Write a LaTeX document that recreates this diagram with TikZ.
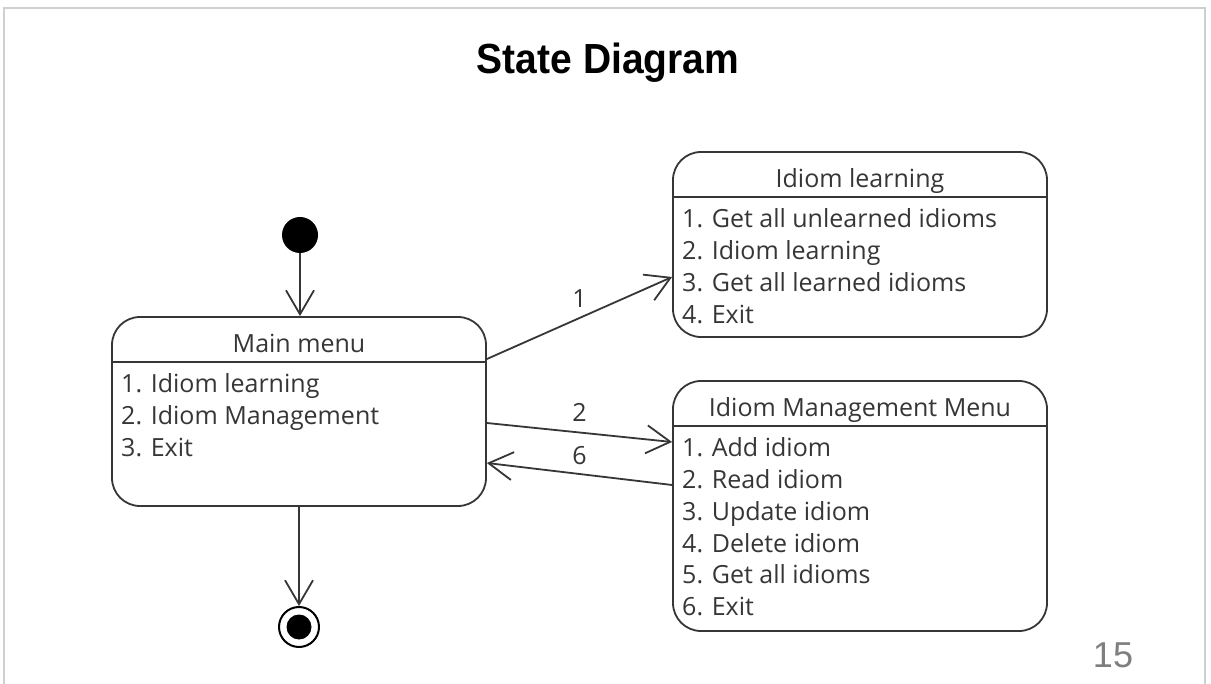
\documentclass[tikz,border=0pt]{standalone}
\usepackage{fontspec}
\setmainfont{Open Sans}
\newfontfamily\arialfont{Liberation Sans}
\usetikzlibrary{arrows.meta,calc}
\definecolor{ink}{HTML}{363636}
\definecolor{txt}{HTML}{363636}
\definecolor{framegray}{HTML}{CFCFCF}
\definecolor{pagenum}{HTML}{7F7F7F}
\begin{document}
\begin{tikzpicture}[x=1pt,y=1pt,
  statebox/.style={draw=ink, line width=1.8pt, rounded corners=28pt, rectangle,
    minimum width=374pt, inner sep=0pt},
  divider/.style={draw=ink, line width=1.8pt},
  head/.style={anchor=base, inner sep=0pt, text=txt, font=\fontsize{25}{30}\selectfont},
  txtline/.style={anchor=base west, inner sep=0pt, text=txt, font=\fontsize{25}{30}\selectfont},
  trans/.style={draw=ink, line width=1.8pt, -{Straight Barb[length=24pt,width=28pt]}},
  tlabel/.style={inner sep=0pt, text=txt, font=\fontsize{25}{30}\selectfont}
]
\useasboundingbox (0,0) rectangle (1211,-684);
\fill[white] (0,0) rectangle (1211,-684);
% slide frame
\draw[framegray, line width=2pt] (4,-690) -- (4,-8) -- (1205,-8) -- (1205,-690);

% title and page number
\node[anchor=base, inner sep=0pt, font=\arialfont\bfseries\fontsize{39}{44}\selectfont] (title) at (608,-74) {\scalebox{1}[1.08]{State Diagram}};
\node[anchor=base, inner sep=0pt, text=pagenum, font=\arialfont\fontsize{36}{40}\selectfont] (pnum) at (1113,-667) {15};

% pseudo states
\node[circle, fill=black, minimum size=36pt, inner sep=0pt] (init) at (300,-235) {};
\node[circle, draw=black, line width=2pt, minimum size=40pt, inner sep=0pt] (fin) at (299,-627) {};
\fill[black] (fin.center) circle (12.5);

% Main menu state
\node[statebox, minimum height=189pt] (main) at (299,-411.5) {};
\draw[divider] ($(main.north west)+(0,-46)$) -- ($(main.north east)+(0,-46)$);
\node[head] (mainhead) at (299,-353) {Main menu};
\foreach \t [count=\i] in {1. Idiom learning, 2. Idiom Management, 3. Exit}
  \node[txtline] (main\i) at (121,{-393-31.7*(\i-1)}) {\t};

% Idiom learning state
\node[statebox, minimum height=185pt] (learn) at (860,-244.5) {};
\draw[divider] ($(learn.north west)+(0,-46)$) -- ($(learn.north east)+(0,-46)$);
\node[head] (learnhead) at (860,-188) {Idiom learning};
\foreach \t [count=\i] in {1. Get all unlearned idioms, 2. Idiom learning, 3. Get all learned idioms, 4. Exit}
  \node[txtline] (learn\i) at (682,{-228-31.7*(\i-1)}) {\t};

% Idiom management state
\node[statebox, minimum height=250pt] (mgmt) at (860,-506) {};
\draw[divider] ($(mgmt.north west)+(0,-46)$) -- ($(mgmt.north east)+(0,-46)$);
\node[head] (mgmthead) at (860,-417) {Idiom Management Menu};
\foreach \t [count=\i] in {1. Add idiom, 2. Read idiom, 3. Update idiom, 4. Delete idiom, 5. Get all idioms, 6. Exit}
  \node[txtline] (mgmt\i) at (682,{-457-31.7*(\i-1)}) {\t};

% transitions
\draw[trans] (init) -- (init |- main.north);
\draw[trans] (main.south) -- (fin.north);
\draw[trans] ([yshift=52.5pt]main.east) -- node[tlabel, above=10pt] (l1) {1} ([yshift=-32.5pt]learn.west);
\draw[trans] ([yshift=-11.5pt]main.east) -- node[tlabel, above=10pt] (l2) {2} ([yshift=64pt]mgmt.west);
\draw[trans] ([yshift=21pt]mgmt.west) -- node[tlabel, above=8pt] (l6) {6} ([yshift=-51.5pt]main.east);
\end{tikzpicture}
\end{document}
